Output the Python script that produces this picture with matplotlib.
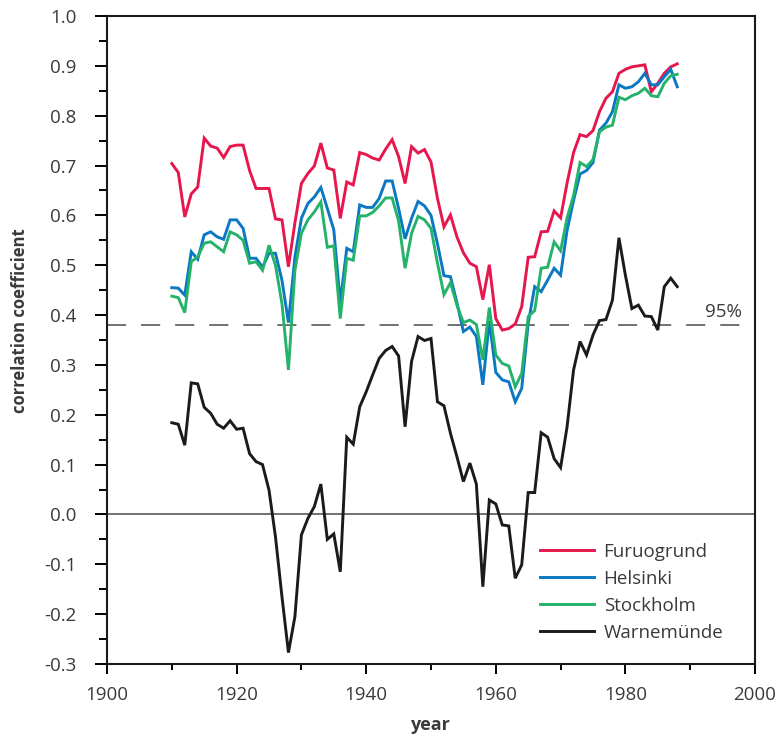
import numpy as np
import matplotlib
matplotlib.use("Agg")
import matplotlib.pyplot as plt
from matplotlib.ticker import MultipleLocator, FormatStrFormatter

plt.rcParams['font.family'] = ['Open Sans', 'DejaVu Sans']
plt.rcParams['axes.unicode_minus'] = False

# annual values, 1910-1988
years = np.arange(1910, 1989)
furuogrund = [0.704, 0.686, 0.597, 0.643, 0.657, 0.755, 0.739, 0.735, 0.716, 0.738,
              0.741, 0.741, 0.690, 0.654, 0.654, 0.654, 0.593, 0.591, 0.497, 0.585,
              0.664, 0.684, 0.699, 0.745, 0.695, 0.691, 0.594, 0.667, 0.661, 0.726,
              0.722, 0.715, 0.711, 0.733, 0.752, 0.718, 0.664, 0.738, 0.725, 0.732,
              0.707, 0.634, 0.577, 0.601, 0.557, 0.525, 0.504, 0.497, 0.431, 0.501,
              0.393, 0.370, 0.373, 0.382, 0.417, 0.516, 0.517, 0.567, 0.568, 0.609,
              0.595, 0.665, 0.726, 0.762, 0.758, 0.770, 0.808, 0.835, 0.848, 0.885,
              0.893, 0.898, 0.900, 0.902, 0.848, 0.865, 0.885, 0.898, 0.904]
helsinki = [0.455, 0.454, 0.440, 0.527, 0.512, 0.561, 0.567, 0.557, 0.552, 0.591,
            0.591, 0.574, 0.514, 0.514, 0.496, 0.524, 0.524, 0.470, 0.385, 0.517,
            0.594, 0.624, 0.637, 0.656, 0.614, 0.571, 0.425, 0.534, 0.527, 0.621,
            0.616, 0.616, 0.634, 0.669, 0.669, 0.614, 0.553, 0.594, 0.628, 0.619,
            0.600, 0.543, 0.479, 0.477, 0.425, 0.367, 0.376, 0.357, 0.260, 0.388,
            0.285, 0.270, 0.266, 0.226, 0.253, 0.383, 0.457, 0.447, 0.470, 0.494,
            0.480, 0.570, 0.630, 0.683, 0.690, 0.706, 0.771, 0.785, 0.808, 0.862,
            0.855, 0.858, 0.868, 0.885, 0.862, 0.862, 0.878, 0.893, 0.858]
stockholm = [0.438, 0.435, 0.405, 0.507, 0.517, 0.544, 0.547, 0.537, 0.527, 0.567,
             0.561, 0.550, 0.504, 0.507, 0.490, 0.540, 0.500, 0.423, 0.290, 0.490,
             0.564, 0.591, 0.607, 0.627, 0.536, 0.539, 0.393, 0.514, 0.510, 0.599,
             0.599, 0.606, 0.619, 0.635, 0.635, 0.589, 0.494, 0.564, 0.598, 0.591,
             0.574, 0.504, 0.441, 0.465, 0.420, 0.385, 0.390, 0.381, 0.310, 0.415,
             0.320, 0.303, 0.298, 0.256, 0.283, 0.397, 0.409, 0.494, 0.496, 0.547,
             0.529, 0.595, 0.640, 0.706, 0.698, 0.712, 0.768, 0.777, 0.781, 0.837,
             0.832, 0.840, 0.845, 0.855, 0.840, 0.838, 0.865, 0.880, 0.883]
warnemuende = [0.184, 0.181, 0.139, 0.264, 0.262, 0.215, 0.203, 0.181, 0.173, 0.188,
               0.171, 0.173, 0.122, 0.106, 0.100, 0.049, -0.045, -0.165, -0.277, -0.205,
               -0.041, -0.008, 0.016, 0.061, -0.050, -0.039, -0.115, 0.155, 0.141, 0.216,
               0.246, 0.280, 0.313, 0.329, 0.337, 0.318, 0.176, 0.307, 0.357, 0.349,
               0.353, 0.226, 0.218, 0.163, 0.116, 0.066, 0.103, 0.061, -0.145, 0.029,
               0.021, -0.021, -0.023, -0.128, -0.101, 0.044, 0.044, 0.164, 0.155, 0.112,
               0.094, 0.176, 0.290, 0.347, 0.320, 0.360, 0.389, 0.391, 0.430, 0.555,
               0.480, 0.413, 0.420, 0.398, 0.397, 0.370, 0.457, 0.474, 0.457]

series = [("Furuogrund", furuogrund, "#e6174d"),
          ("Helsinki", helsinki, "#0a78c2"),
          ("Stockholm", stockholm, "#25b36b"),
          ("Warnemünde", warnemuende, "#1c1a1b")]
SIG95 = 0.38
TXT = "#3a3a3a"

fig = plt.figure(figsize=(7.81, 7.38), dpi=100)
ax = fig.add_axes([107/781, 1-664/738, 648/781, 648/738])

ax.axhline(0, color="#4a4a4a", lw=1.1, zorder=1)
ax.axhline(SIG95, color="#4a4a4a", lw=1.1, dashes=(12.5, 9.8), zorder=1)
ax.text(1998, SIG95 + 0.008, "95%", ha="right", va="bottom", fontsize=13.5, color=TXT)

for name, vals, col in series:
    ax.plot(years, vals, color=col, lw=2.1, label=name, zorder=3, solid_joinstyle="miter")

ax.set_xlim(1900, 2000); ax.set_ylim(-0.3, 1.0)
ax.xaxis.set_major_locator(MultipleLocator(20)); ax.xaxis.set_minor_locator(MultipleLocator(10))
ax.yaxis.set_major_locator(MultipleLocator(0.1)); ax.yaxis.set_minor_locator(MultipleLocator(0.05))
ax.yaxis.set_major_formatter(FormatStrFormatter("%.1f"))
ax.tick_params(axis="y", which="major", length=9, width=1.4, pad=13, labelsize=13.5, labelcolor=TXT, direction="out")
ax.tick_params(axis="y", which="minor", length=5.8, width=1.4, direction="out")
ax.tick_params(axis="x", which="major", length=7.2, width=1.4, pad=9, labelsize=13.5, labelcolor=TXT, direction="out")
ax.tick_params(axis="x", which="minor", length=4.3, width=1.4, direction="out")
for s in ax.spines.values():
    s.set_linewidth(1.5); s.set_color("#1a1a1a")

ax.set_ylabel("correlation coefficient", fontsize=12, fontweight="bold", color=TXT)
ax.set_xlabel("year", fontsize=13, fontweight="bold", color=TXT)
ax.yaxis.set_label_coords(-0.12, 0.53)
ax.xaxis.set_label_coords(0.5, -0.08)

ax.legend(loc="upper left", bbox_to_anchor=(0.668, 0.187), frameon=False, fontsize=13.5,
          handlelength=2.9, handletextpad=0.5, labelspacing=0.48, borderpad=0, borderaxespad=0,
          labelcolor=TXT)

fig.savefig("out.png", dpi=100)
